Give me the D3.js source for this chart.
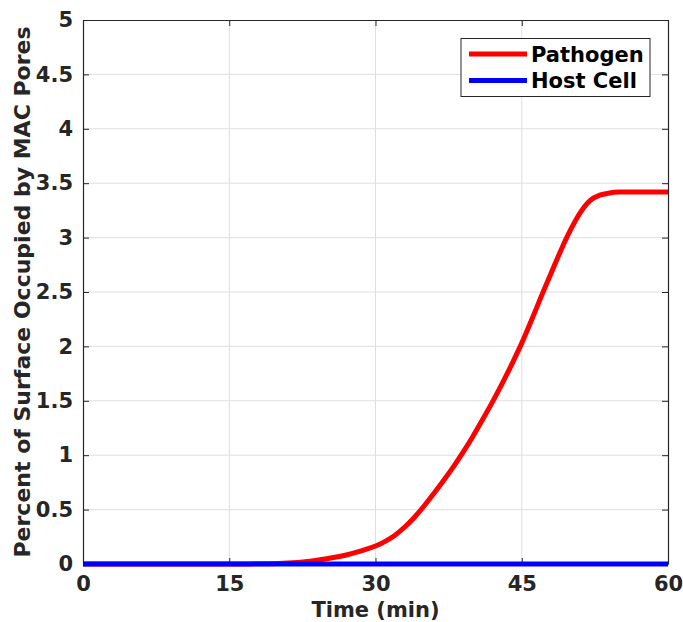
<!DOCTYPE html>
<html>
<head>
<meta charset="utf-8">
<script src="https://cdn.jsdelivr.net/npm/d3@7"></script>
<style>
  html, body { margin: 0; padding: 0; background: #fff; }
  svg { display: block; font-family: "DejaVu Sans", sans-serif; }
</style>
</head>
<body>
<svg id="chart" width="683" height="622"></svg>
<script>
// Time points (min)
const timeMin = [0, 5, 10, 15, 16, 17, 18, 19, 20, 21, 22, 23, 24, 25, 26, 27, 28, 29, 30,
  31, 32, 33, 34, 35, 36, 37, 38, 39, 40, 41, 42, 43, 44, 45, 46, 47, 48, 49, 50,
  51, 52, 53, 54, 55, 56, 57, 58, 59, 60];
// Percent of surface occupied by MAC pores
const pathogen = [0, 0, 0, 0, 0.0005, 0.001, 0.002, 0.003, 0.005, 0.009, 0.015, 0.023, 0.034, 0.048, 0.064, 0.083, 0.107, 0.134, 0.165,
  0.208, 0.265, 0.34, 0.43, 0.535, 0.65, 0.77, 0.895, 1.03, 1.175, 1.33, 1.49, 1.66, 1.84, 2.03, 2.24, 2.46, 2.67, 2.88, 3.07,
  3.23, 3.34, 3.39, 3.41, 3.418, 3.42, 3.42, 3.42, 3.42, 3.42];
const hostCell = timeMin.map(() => 0);
const xTicks = [0, 15, 30, 45, 60];
const yTicks = [0, 0.5, 1, 1.5, 2, 2.5, 3, 3.5, 4, 4.5, 5];
const seriesNames = ["Pathogen", "Host Cell"];
const seriesColors = ["#ff0000", "#0000ff"];

const svg = d3.select("#chart");
const m = { left: 83, right: 668, top: 20, bottom: 564 };
const x = d3.scaleLinear().domain([0, 60]).range([m.left, m.right]);
const y = d3.scaleLinear().domain([0, 5]).range([m.bottom, m.top]);
const axisColor = "#262626";
const tickLen = 6;

// Grid
const grid = svg.append("g");
grid.selectAll("line.gx").data(xTicks.slice(1, -1)).join("line")
  .attr("x1", d => x(d)).attr("x2", d => x(d))
  .attr("y1", m.top).attr("y2", m.bottom)
  .attr("stroke", "#dfdfdf").attr("stroke-width", 1);
grid.selectAll("line.gy").data(yTicks.slice(1, -1)).join("line")
  .attr("y1", d => y(d)).attr("y2", d => y(d))
  .attr("x1", m.left).attr("x2", m.right)
  .attr("stroke", "#dfdfdf").attr("stroke-width", 1);

// Axes with inward ticks
const gx = svg.append("g").attr("transform", `translate(0,${m.bottom})`)
  .call(d3.axisBottom(x).tickValues(xTicks).tickSizeInner(-tickLen).tickSizeOuter(0).tickPadding(12).tickFormat(d3.format("d")));
const gxTop = svg.append("g").attr("transform", `translate(0,${m.top})`)
  .call(d3.axisTop(x).tickValues(xTicks).tickSizeInner(-tickLen).tickSizeOuter(0).tickFormat(""));
const gy = svg.append("g").attr("transform", `translate(${m.left},0)`)
  .call(d3.axisLeft(y).tickValues(yTicks).tickSizeInner(-tickLen).tickSizeOuter(0).tickPadding(10).tickFormat(d => d3.format("")(d)));
const gyR = svg.append("g").attr("transform", `translate(${m.right},0)`)
  .call(d3.axisRight(y).tickValues(yTicks).tickSizeInner(-tickLen).tickSizeOuter(0).tickFormat(""));

[gx, gxTop, gy, gyR].forEach(g => {
  g.selectAll("path.domain").attr("stroke", axisColor).attr("stroke-width", 1.2);
  g.selectAll(".tick line").attr("stroke", axisColor).attr("stroke-width", 1);
  g.selectAll(".tick text").attr("fill", axisColor)
    .style("font-size", "21px").style("font-weight", "bold")
    .style("font-family", "'DejaVu Sans', sans-serif");
});
gx.selectAll(".tick text").attr("dy", "0.71em");

// Series
const line = d3.line().x((d, i) => x(timeMin[i])).y(d => y(d)).curve(d3.curveMonotoneX);
const plotG = svg.append("g");
[pathogen, hostCell].forEach((s, k) => {
  plotG.append("path").datum(s)
    .attr("d", line)
    .attr("fill", "none")
    .attr("stroke", seriesColors[k])
    .attr("stroke-width", 5)
    .attr("stroke-linejoin", "round");
});

// Axis labels
svg.append("text")
  .attr("x", (m.left + m.right) / 2).attr("y", 617)
  .attr("text-anchor", "middle")
  .attr("fill", axisColor)
  .style("font-size", "21px").style("font-weight", "bold")
  .text("Time (min)");
svg.append("text")
  .attr("transform", `translate(30,${(m.top + m.bottom) / 2}) rotate(-90)`)
  .attr("text-anchor", "middle")
  .attr("fill", axisColor)
  .style("font-size", "22px").style("font-weight", "bold")
  .text("Percent of Surface Occupied by MAC Pores");

// Legend
const leg = svg.append("g");
leg.append("rect")
  .attr("x", 461).attr("y", 38.5).attr("width", 189).attr("height", 58)
  .attr("fill", "#fff").attr("stroke", axisColor).attr("stroke-width", 1);
seriesNames.forEach((name, k) => {
  const ly = 54 + k * 26.5;
  leg.append("line")
    .attr("x1", 469).attr("x2", 527).attr("y1", ly).attr("y2", ly)
    .attr("stroke", seriesColors[k]).attr("stroke-width", 5);
  leg.append("text")
    .attr("x", 531).attr("y", ly).attr("dy", "0.36em")
    .attr("fill", "#000")
    .style("font-size", "21px").style("font-weight", "bold")
    .text(name);
});
</script>
</body>
</html>
